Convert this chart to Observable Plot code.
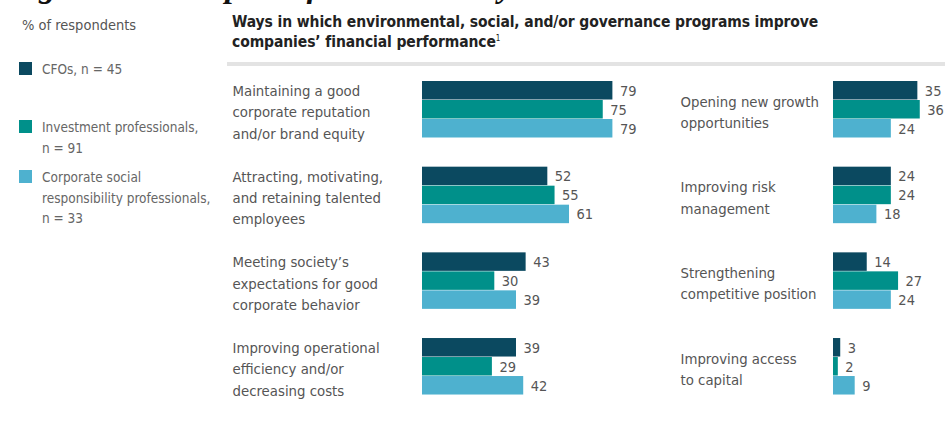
<!DOCTYPE html>
<html>
<head>
<meta charset="utf-8">
<script src="https://cdn.jsdelivr.net/npm/d3@7"></script>
<script src="https://cdn.jsdelivr.net/npm/@observablehq/plot@0.6"></script>
<style>
  html, body { margin: 0; padding: 0; background: #fff; overflow: hidden; }
  #wrap { position: relative; width: 945px; height: 428px; overflow: hidden; background: #fff;
          font-family: "DejaVu Sans Condensed", "Liberation Sans Narrow", sans-serif; color: #555; }
  .abs { position: absolute; white-space: nowrap; }
  #caption { left: 8px; top: -30px; font-family: "Liberation Serif", "DejaVu Serif", serif;
             font-weight: bold; font-style: italic; font-size: 33px; line-height: 33px; color: #111; }
  #title { left: 232px; top: 12px; font-weight: bold; font-size: 15.5px; line-height: 20px; color: #222; letter-spacing: -0.1px; }
  #title sup { font-size: 8px; font-weight: normal; vertical-align: 6px; line-height: 0; }
  #rule { left: 227px; top: 62px; width: 718px; height: 4px; background: #e3e3e3; }
  #unit { left: 22px; top: 15px; font-size: 14.5px; line-height: 20px; color: #555; }
  .sw { position: absolute; width: 13px; height: 13px; }
  .lg { position: absolute; left: 42px; font-size: 13.5px; line-height: 20.5px; color: #666; white-space: nowrap; }
  #chart { position: absolute; left: 222px; top: 70px; }
</style>
</head>
<body>
<div id="wrap">
  <div id="caption" class="abs">Figure 1.55: Impact of Sustainability on Value</div>
  <div id="unit" class="abs">% of respondents</div>
  <div id="title" class="abs">Ways in which environmental, social, and/or governance programs improve<br>companies’ financial performance<sup>1</sup></div>
  <div id="rule" class="abs"></div>
  <div id="legend"></div>
  <div id="chart"></div>
</div>
<script>
// ---- Data ----
const categories = [
  "Maintaining a good\ncorporate reputation\nand/or brand equity",
  "Attracting, motivating,\nand retaining talented\nemployees",
  "Meeting society’s\nexpectations for good\ncorporate behavior",
  "Improving operational\nefficiency and/or\ndecreasing costs",
  "Opening new growth\nopportunities",
  "Improving risk\nmanagement",
  "Strengthening\ncompetitive position",
  "Improving access\nto capital"
];
const seriesNames = ["CFOs, n = 45", "Investment professionals, n = 91", "Corporate social responsibility professionals, n = 33"];
const legendLabels = ["CFOs, n = 45", "Investment professionals,\nn = 91", "Corporate social\nresponsibility professionals,\nn = 33"];
const cfoValues = [79, 52, 43, 39, 35, 24, 14, 3];
const investmentValues = [75, 55, 30, 29, 36, 24, 27, 2];
const csrValues = [79, 61, 39, 42, 24, 18, 24, 9];
const colors = ["#0b4960", "#00908a", "#4eb1cf"];

// ---- Table ----
const valueSets = [cfoValues, investmentValues, csrValues];
const rows = [];
categories.forEach((label, i) => {
  seriesNames.forEach((s, j) => {
    rows.push({panel: i < 4 ? "L" : "R", row: i % 4, label, series: s, value: valueSets[j][i]});
  });
});

// ---- Legend (HTML) ----
const legend = document.getElementById("legend");
const legendTops = [59, 117, 167];
legendLabels.forEach((t, j) => {
  const sw = document.createElement("div");
  sw.className = "sw";
  sw.style.left = "19px";
  sw.style.top = (legendTops[j] + 3) + "px";
  sw.style.background = colors[j];
  legend.appendChild(sw);
  const tx = document.createElement("div");
  tx.className = "lg";
  tx.style.top = legendTops[j] + "px";
  tx.innerHTML = t.split("\n").join("<br>");
  legend.appendChild(tx);
});

// ---- Chart ----
const font = "DejaVu Sans Condensed, Liberation Sans Narrow, sans-serif";
const chart = Plot.plot({
  width: 723,
  height: 358,
  margin: 0,
  style: {fontFamily: font, background: "transparent", overflow: "hidden"},
  fx: {domain: ["L", "R"], range: [200, 852], paddingInner: 1 - 241 / 411, paddingOuter: 0, round: false, axis: null},
  fy: {domain: [0, 1, 2, 3], range: [10, 327], paddingInner: 0.3, paddingOuter: 0, round: false, axis: null},
  x: {domain: [0, 100], axis: null},
  y: {domain: seriesNames, padding: 0, axis: null},
  color: {domain: seriesNames, range: colors},
  facet: {data: rows, x: "panel", y: "row", marginTop: 0, marginRight: 0, marginBottom: 0, marginLeft: 0},
  marks: [
    Plot.barX(rows, {x: "value", y: "series", fill: "series", insetBottom: 0.5}),
    Plot.text(rows, {x: "value", y: "series", text: d => String(d.value), dx: 7, textAnchor: "start",
                     fontSize: 14.5, fill: "#555"}),
    Plot.text(rows, {filter: d => d.panel === "L" && d.series === seriesNames[0], text: "label",
                     frameAnchor: "left", dx: -190, textAnchor: "start", lineHeight: 1.45, fontSize: 14.8, fill: "#555"}),
    Plot.text(rows, {filter: d => d.panel === "R" && d.series === seriesNames[0], text: "label",
                     frameAnchor: "left", dx: -153, textAnchor: "start", lineHeight: 1.45, fontSize: 14.8, fill: "#555"})
  ]
});
document.getElementById("chart").appendChild(chart);
</script>
</body>
</html>
